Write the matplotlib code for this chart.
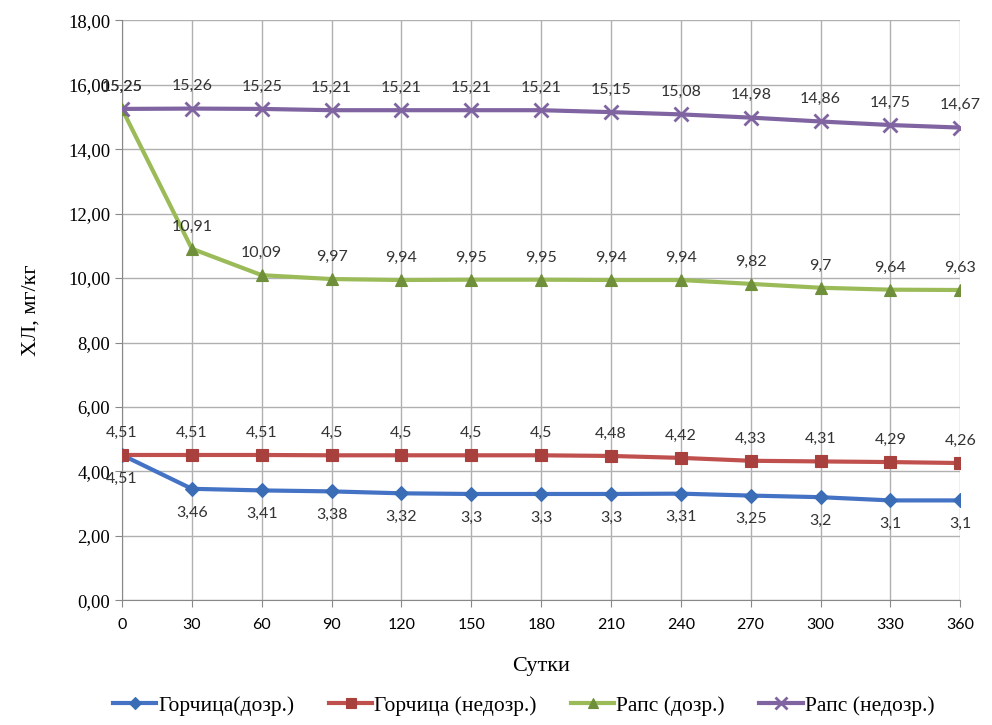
import numpy as np
import matplotlib
matplotlib.use("Agg")
import matplotlib.pyplot as plt

days = [0, 30, 60, 90, 120, 150, 180, 210, 240, 270, 300, 330, 360]
mustard_ripe = [4.51, 3.46, 3.41, 3.38, 3.32, 3.3, 3.3, 3.3, 3.31, 3.25, 3.2, 3.1, 3.1]
mustard_unripe = [4.51, 4.51, 4.51, 4.5, 4.5, 4.5, 4.5, 4.48, 4.42, 4.33, 4.31, 4.29, 4.26]
rape_ripe = [15.25, 10.91, 10.09, 9.97, 9.94, 9.95, 9.95, 9.94, 9.94, 9.82, 9.7, 9.64, 9.63]
rape_unripe = [15.25, 15.26, 15.25, 15.21, 15.21, 15.21, 15.21, 15.15, 15.08, 14.98, 14.86, 14.75, 14.67]

names = ["Горчица(дозр.)", "Горчица (недозр.)", "Рапс (дозр.)", "Рапс (недозр.)"]

serif = "Liberation Serif"
sans = "Lato"

fig = plt.figure(figsize=(9.92, 7.25), dpi=100)
ax = fig.add_axes([0.123, 0.172, 0.845, 0.8])

def fmt(v):
    s = ("%.2f" % v).rstrip("0").rstrip(".")
    return s.replace(".", ",")

series = [
    (mustard_ripe, "#4472C4", "D", 7, "#3a6db5", -1),
    (mustard_unripe, "#C0504D", "s", 9, "#a8403d", 1),
    (rape_ripe, "#9BBB59", "^", 9, "#6f8f3a", 1),
    (rape_unripe, "#8064A2", "x", 10, "#8064A2", 1),
]

for (vals, col, mk, ms, mfc, side), name in zip(series, names):
    ax.plot(days, vals, color=col, lw=3, marker=mk, ms=ms, mfc=mfc,
            mec=mfc, mew=2 if mk == "x" else 0.8, label=name, zorder=3)
    for x, y in zip(days, vals):
        off = 16 if side > 0 else -17
        ax.annotate(fmt(y), (x, y), xytext=(0, off), textcoords="offset points",
                    ha="center", va="center", fontsize=11.5, family=sans,
                    color="#333333", zorder=4)

ax.set_xlim(0, 360)
ax.set_ylim(0, 18)
ax.set_xticks(days)
ax.set_yticks(np.arange(0, 18.1, 2))
ax.set_yticklabels([("%.2f" % v).replace(".", ",") for v in np.arange(0, 18.1, 2)],
                   family=serif, fontsize=13.5)
ax.set_xticklabels([str(d) for d in days], family=sans, fontsize=11.5)
ax.grid(True, color="#b0b0b0", lw=1)
ax.set_axisbelow(True)
for s in ["top", "right"]:
    ax.spines[s].set_visible(False)
ax.spines["left"].set_color("#888888")
ax.spines["bottom"].set_color("#888888")
ax.tick_params(axis="both", color="#888888", length=5)
ax.tick_params(axis="x", pad=8)

ax.set_xlabel("Сутки", family=serif, fontsize=16, labelpad=18)
ax.set_ylabel("ХЛ, мг/кг", family=serif, fontsize=16, labelpad=20)

fig.legend(loc="lower center", ncol=4, bbox_to_anchor=(0.528, -0.014), frameon=False,
           prop={"family": serif, "size": 15.5}, handlelength=2.0, columnspacing=1.6,
           handletextpad=0.1, markerscale=0.85)

fig.savefig("out.png", dpi=100)
